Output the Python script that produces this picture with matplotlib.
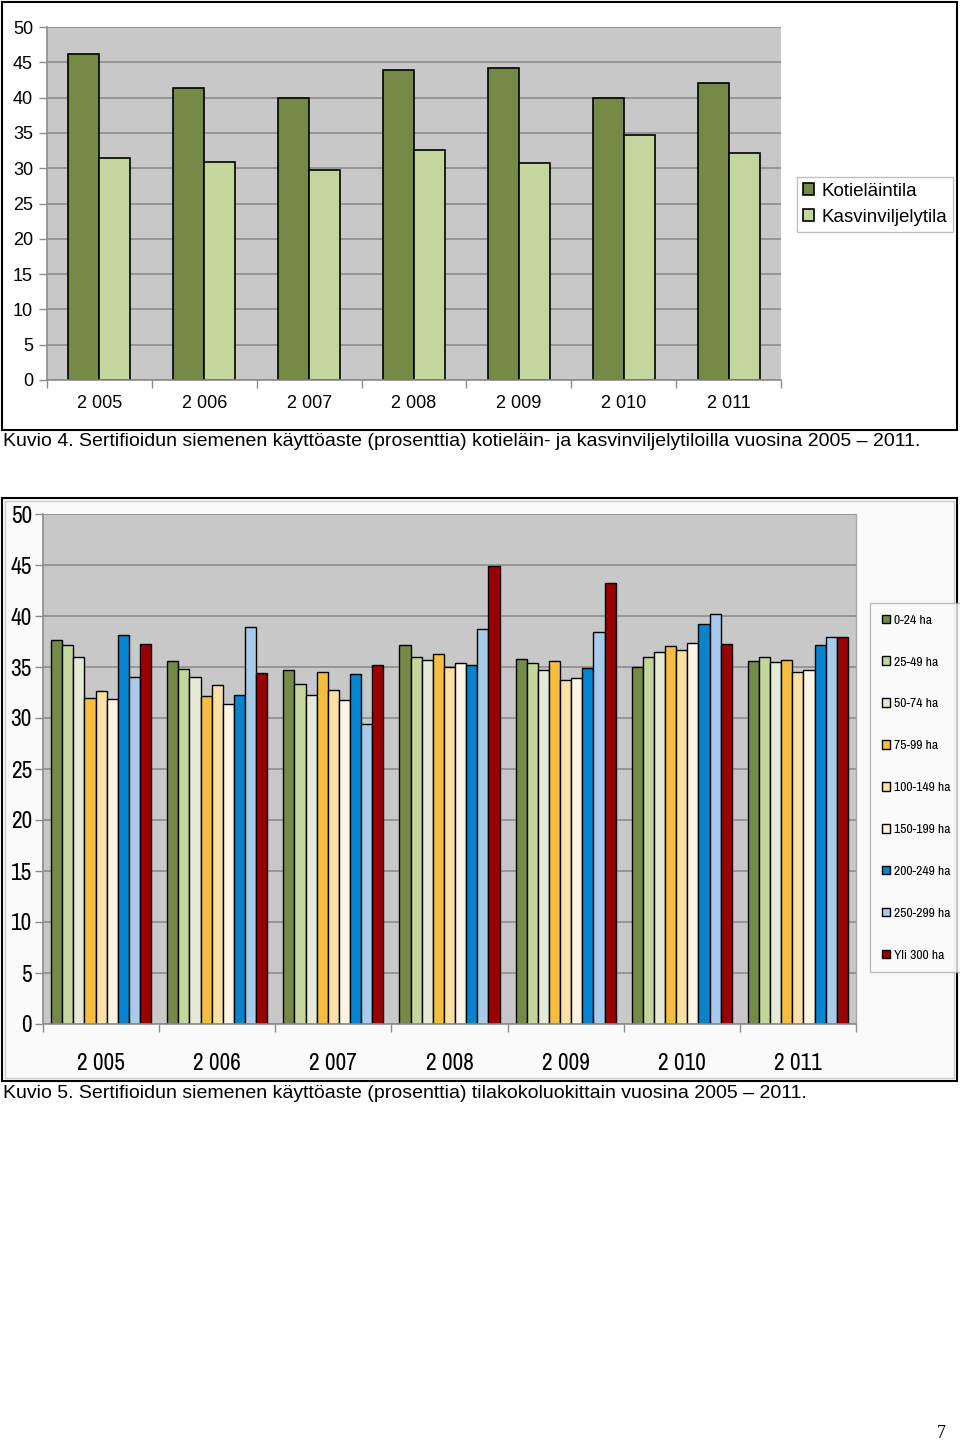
import matplotlib
matplotlib.use("Agg")
import matplotlib.pyplot as plt
from matplotlib.patches import Rectangle
from matplotlib import font_manager
import numpy as np

# data
years = ["2 005", "2 006", "2 007", "2 008", "2 009", "2 010", "2 011"]

kotielain = [46.2, 41.3, 39.9, 43.9, 44.2, 39.9, 42.0]
kasvinviljely = [31.4, 30.9, 29.8, 32.6, 30.7, 34.7, 32.2]

size_classes = ["0-24 ha", "25-49 ha", "50-74 ha", "75-99 ha", "100-149 ha",
                "150-199 ha", "200-249 ha", "250-299 ha", "Yli 300 ha"]
# one list per size class, one value per year
ha_0_24 = [37.6, 35.6, 34.7, 37.2, 35.8, 35.0, 35.6]
ha_25_49 = [37.2, 34.8, 33.3, 36.0, 35.4, 36.0, 36.0]
ha_50_74 = [36.0, 34.0, 32.3, 35.7, 34.7, 36.5, 35.5]
ha_75_99 = [32.0, 32.2, 34.5, 36.3, 35.6, 37.1, 35.7]
ha_100_149 = [32.6, 33.2, 32.7, 35.0, 33.7, 36.7, 34.5]
ha_150_199 = [31.9, 31.4, 31.8, 35.4, 33.9, 37.4, 34.7]
ha_200_249 = [38.1, 32.3, 34.3, 35.2, 34.9, 39.2, 37.2]
ha_250_299 = [34.0, 38.9, 29.4, 38.7, 38.4, 40.2, 37.9]
ha_yli_300 = [37.3, 34.4, 35.2, 44.9, 43.2, 37.3, 37.9]
size_values = [ha_0_24, ha_25_49, ha_50_74, ha_75_99, ha_100_149,
               ha_150_199, ha_200_249, ha_250_299, ha_yli_300]

green_dark = "#758a47"
green_light = "#c3d69b"
size_colors = ["#758a47", "#c3d69b", "#e4ebd5", "#f6bd41", "#fbe0a6",
               "#fdf4e1", "#0684cd", "#a7cbea", "#990000"]

# look for a narrow / condensed sans for the second chart
narrow = {"family": "Liberation Sans", "stretch": "normal"}
nscale = 0.8
for f in font_manager.fontManager.ttflist:
    nm = f.name.lower()
    if "narrow" in nm:
        narrow = {"family": f.name, "stretch": "normal"}
        nscale = 1.0
        break
else:
    for f in font_manager.fontManager.ttflist:
        if "sans" in f.name.lower() and f.stretch in ("condensed", "semi-condensed") and f.weight in (400, "normal"):
            narrow = {"family": f.name, "stretch": f.stretch}
            nscale = 0.88
            break

W, H = 960, 1442
fig = plt.figure(figsize=(W / 100, H / 100), dpi=100)


def fx(px):
    return px / W


def fy(py):
    return 1 - py / H


def style_axes(ax, fontsize, fam, stretch="normal"):
    ax.set_facecolor("#c8c8c8")
    ax.set_ylim(0, 50)
    ax.set_yticks(np.arange(0, 51, 5))
    ax.yaxis.grid(True, color="#8c8c8c", linewidth=1.2)
    ax.set_axisbelow(True)
    for s in ["top", "right"]:
        ax.spines[s].set_visible(False)
    for s in ["left", "bottom"]:
        ax.spines[s].set_color("#8c8c8c")
        ax.spines[s].set_linewidth(1.2)
    ax.set_xlim(-0.5, len(years) - 0.5)
    ax.set_xticks(np.arange(-0.5, len(years), 1.0))
    ax.set_xticklabels([])
    ax.set_xticks(np.arange(len(years)), minor=True)
    ax.set_xticklabels(years, minor=True, fontsize=fontsize, family=fam, fontstretch=stretch)
    ax.tick_params(axis="x", which="major", length=6, color="#8c8c8c", width=1)
    ax.tick_params(axis="x", which="minor", length=0, pad=12)
    ax.tick_params(axis="y", length=6, color="#8c8c8c", width=1, pad=6)
    for lab in ax.get_yticklabels():
        lab.set_fontsize(fontsize)
        lab.set_family(fam)
        lab.set_fontstretch(stretch)


# ---- Kuvio 4 ----
fig.patches.append(Rectangle((fx(2), fy(430)), fx(955), 428 / H, transform=fig.transFigure,
                             facecolor="white", edgecolor="black", linewidth=1.5, zorder=-10))
ax1 = fig.add_axes([fx(47), fy(380), fx(734), 353 / H])
x = np.arange(len(years))
w = 0.295
b1 = ax1.bar(x - w / 2, kotielain, w, color=green_dark, edgecolor="black", linewidth=1.2, label="Kotieläintila")
b2 = ax1.bar(x + w / 2, kasvinviljely, w, color=green_light, edgecolor="black", linewidth=1.2, label="Kasvinviljelytila")
style_axes(ax1, 13, "Liberation Sans")
ax1.tick_params(axis="x", which="minor", pad=11)
ax1.tick_params(axis="y", pad=4)

leg1 = fig.legend(handles=[b1, b2], loc="upper left", bbox_to_anchor=(fx(797), fy(177)),
                  prop={"family": "Liberation Sans", "size": 13.5}, fancybox=False,
                  edgecolor="#b0b0b0", handlelength=0.6, handleheight=0.6,
                  handletextpad=0.4, borderpad=0.3, labelspacing=0.5, borderaxespad=0)
leg1.get_frame().set_linewidth(1.0)

fig.text(fx(3), fy(441), "Kuvio 4. Sertifioidun siemenen käyttöaste (prosenttia) kotieläin- ja "
         "kasvinviljelytiloilla vuosina 2005 – 2011.", ha="left", va="center",
         fontsize=14, family="Liberation Sans")

# ---- Kuvio 5 ----
fig.patches.append(Rectangle((fx(2), fy(1081)), fx(955), 583 / H, transform=fig.transFigure,
                             facecolor="#fafafa", edgecolor="black", linewidth=1.5, zorder=-10))
fig.patches.append(Rectangle((fx(5), fy(1078)), fx(949), 577 / H, transform=fig.transFigure,
                             facecolor="none", edgecolor="#cccccc", linewidth=1.0, zorder=-9))
ax2 = fig.add_axes([fx(43), fy(1024), fx(813), 510 / H])
bw = 0.0957
bars2 = []
for i, (vals, col, lab) in enumerate(zip(size_values, size_colors, size_classes)):
    bars2.append(ax2.bar(x + (i - 4) * bw, vals, bw, color=col, edgecolor="black", linewidth=1.0, label=lab))
style_axes(ax2, 16.8 * nscale, narrow["family"], narrow["stretch"])
ax2.tick_params(axis="x", which="minor", pad=21)
ax2.tick_params(axis="y", pad=2)
ax2.plot([1, 1], [0, 1], transform=ax2.transAxes, color="#a8a8a8", linewidth=1, clip_on=False)

leg2 = fig.legend(handles=bars2, loc="upper left", bbox_to_anchor=(fx(870), fy(603)),
                  prop={"family": narrow["family"], "stretch": narrow["stretch"], "size": 9.8 * nscale},
                  fancybox=False, edgecolor="#b0b0b0", handlelength=0.6, handleheight=0.6,
                  handletextpad=0.3, borderpad=0.85, labelspacing=2.26, borderaxespad=0)
leg2.get_frame().set_linewidth(1.0)
leg2.get_frame().set_facecolor("#fafafa")

fig.text(fx(3), fy(1094), "Kuvio 5. Sertifioidun siemenen käyttöaste (prosenttia) tilakokoluokittain "
         "vuosina 2005 – 2011.", ha="left", va="center", fontsize=14, family="Liberation Sans")

fig.text(fx(946), fy(1434), "7", ha="right", va="center", fontsize=13, family="Liberation Serif")

fig.savefig("out.png", dpi=100, facecolor="white")
